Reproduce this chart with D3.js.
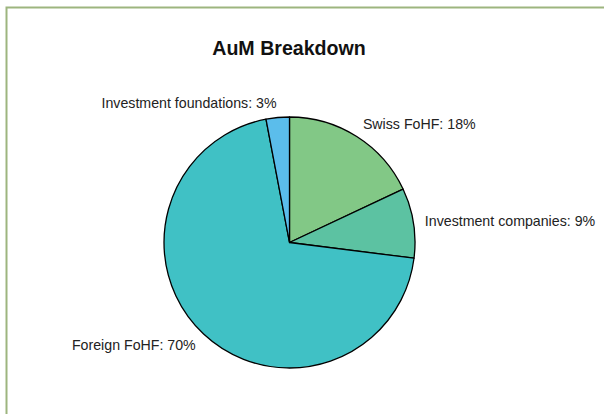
<!DOCTYPE html>
<html><head><meta charset="utf-8">
<script src="https://cdn.jsdelivr.net/npm/d3@7"></script>
<style>html,body{margin:0;padding:0;background:#fff;}svg{display:block;}</style>
</head><body>
<svg id="c" width="604" height="414"></svg>
<script>
const categories = ["Swiss FoHF", "Investment companies", "Foreign FoHF", "Investment foundations"];
const values = [18, 9, 70, 3];
const colors = ["#82C886", "#5CC2A2", "#40C1C5", "#5BBDEB"];
const title = "AuM Breakdown";

const svg = d3.select("#c");
svg.append("rect").attr("x", 6.5).attr("y", 7.5).attr("width", 620).attr("height", 420)
  .attr("fill", "#fff").attr("stroke", "#9DB57F").attr("stroke-width", 2);

svg.append("text").attr("x", 289).attr("y", 55).attr("text-anchor", "middle")
  .attr("font-family", "Liberation Sans, Arial, sans-serif").attr("font-weight", "bold")
  .attr("font-size", 19.6).attr("fill", "#111").text(title);

const cx = 289.5, cy = 242.5, R = 125.5;
const data = categories.map((c, i) => ({name: c, value: values[i], color: colors[i]}));
const pie = d3.pie().value(d => d.value).sort(null);
const arcs = pie(data);
const arc = d3.arc().innerRadius(0).outerRadius(R);
const g = svg.append("g").attr("transform", `translate(${cx},${cy})`);
g.selectAll("path").data(arcs).join("path")
  .attr("d", arc).attr("fill", d => d.data.color)
  .attr("stroke", "#000").attr("stroke-width", 1.3).attr("stroke-linejoin", "round");

const LR = 137;
const mid = d => (d.startAngle + d.endAngle) / 2;
g.selectAll("text.lbl").data(arcs).join("text").attr("class", "lbl")
  .attr("x", d => LR * Math.sin(mid(d)))
  .attr("y", d => -(LR + 3) * Math.cos(mid(d)))
  .attr("dy", "0.35em")
  .attr("text-anchor", d => Math.sin(mid(d)) >= 0 ? "start" : "end")
  .attr("font-family", "Liberation Sans, Arial, sans-serif").attr("font-size", 14.2)
  .attr("fill", "#222")
  .text(d => `${d.data.name}: ${d.data.value}%`);
</script>
</body></html>
